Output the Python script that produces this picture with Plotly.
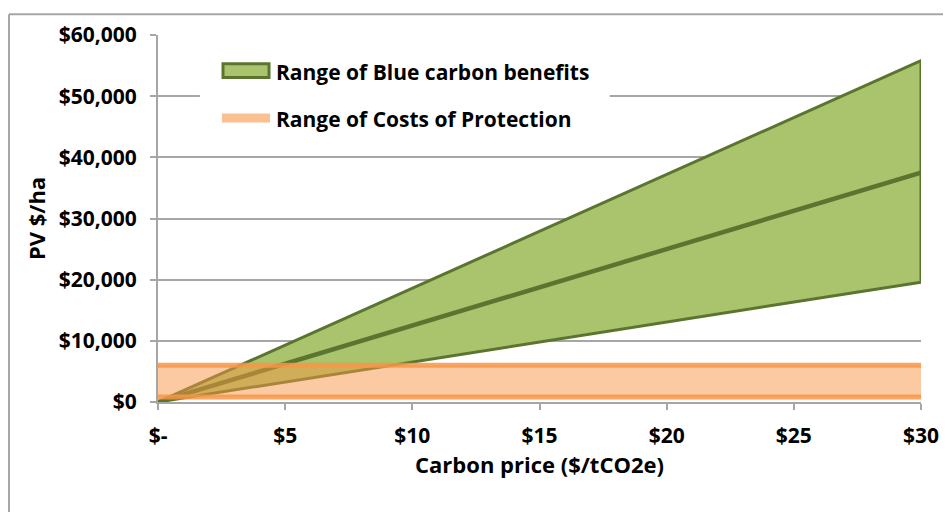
import plotly.graph_objects as go

# ---- data ----
carbon_price = [0, 5, 10, 15, 20, 25, 30]
benefit_high = [0, 9300, 18600, 27900, 37200, 46500, 55800]
benefit_mid = [0, 6250, 12500, 18750, 25000, 31250, 37500]
benefit_low = [0, 3270, 6530, 9800, 13070, 16330, 19600]
cost_low = [800, 800, 800, 800, 800, 800, 800]
cost_high = [6000, 6000, 6000, 6000, 6000, 6000, 6000]

x_tickvals = [0, 5, 10, 15, 20, 25, 30]
x_ticktext = ["$-", "$5", "$10", "$15", "$20", "$25", "$30"]
y_tickvals = [0, 10000, 20000, 30000, 40000, 50000, 60000]
y_ticktext = ["$0", "$10,000", "$20,000", "$30,000", "$40,000", "$50,000", "$60,000"]
legend_labels = ["Range of Blue carbon benefits", "Range of Costs of Protection"]

GREEN_FILL = "#A9C46C"
GREEN_LINE = "#5B7530"
ORANGE_LINE = "rgba(247,150,70,0.85)"
ORANGE_FILL = "rgba(247,150,70,0.5)"
ORANGE_LEGEND = "#FAC090"
GRID = "#A6A6A6"
FONT = "Open Sans"
FS = 21

fig = go.Figure()

# green benefit range polygon
fig.add_trace(go.Scatter(
    x=carbon_price + carbon_price[::-1],
    y=benefit_high + benefit_low[::-1],
    fill="toself", fillcolor=GREEN_FILL,
    line=dict(color=GREEN_LINE, width=3),
    mode="lines", name=legend_labels[0],
    showlegend=False, hoverinfo="skip",
))
fig.add_trace(go.Scatter(
    x=carbon_price, y=benefit_mid, mode="lines",
    line=dict(color=GREEN_LINE, width=4.5),
    showlegend=False, hoverinfo="skip",
))

# orange cost band
fig.add_trace(go.Scatter(
    x=carbon_price, y=cost_low, mode="lines",
    line=dict(color=ORANGE_LINE, width=5),
    showlegend=False, hoverinfo="skip",
))
fig.add_trace(go.Scatter(
    x=carbon_price, y=cost_high, mode="lines",
    line=dict(color=ORANGE_LINE, width=5),
    fill="tonexty", fillcolor=ORANGE_FILL,
    name=legend_labels[1],
    showlegend=False, hoverinfo="skip",
))

# legend drawn in paper space (box, swatches, labels)
legend_shapes = [
    dict(type="rect", xref="paper", yref="paper",
         x0=0.055, x1=0.592, y0=0.715, y1=0.962,
         fillcolor="white", line=dict(width=0)),
    dict(type="rect", xref="paper", yref="paper",
         x0=0.0852, x1=0.1455, y0=0.884, y1=0.922,
         fillcolor=GREEN_FILL, line=dict(color=GREEN_LINE, width=3)),
    dict(type="line", xref="paper", yref="paper",
         x0=0.0838, x1=0.1468, y0=0.774, y1=0.774,
         line=dict(color=ORANGE_LEGEND, width=9)),
]
legend_annotations = [
    dict(text=legend_labels[0], xref="paper", yref="paper",
         x=0.152, y=0.900, xanchor="left", yanchor="middle", showarrow=False,
         font=dict(family=FONT, size=FS, color="black", weight="bold")),
    dict(text=legend_labels[1], xref="paper", yref="paper",
         x=0.152, y=0.772, xanchor="left", yanchor="middle", showarrow=False,
         font=dict(family=FONT, size=FS, color="black", weight="bold")),
]

# outer frame (top and left edges visible in the crop)
frame_shapes = [
    dict(type="line", xref="paper", yref="paper",
         x0=-0.1953, x1=1.05, y0=1.0565, y1=1.0565,
         line=dict(color=GRID, width=2)),
    dict(type="line", xref="paper", yref="paper",
         x0=-0.1953, x1=-0.1953, y0=1.0565, y1=-0.32,
         line=dict(color=GRID, width=2)),
]

# page body keeps its default 8px margin, so the figure is 8px smaller
fig.update_layout(
    width=943, height=504,
    margin=dict(l=150, r=30, t=22, b=110),
    paper_bgcolor="white", plot_bgcolor="white",
    font=dict(family=FONT, size=FS, color="black", weight="bold"),
    showlegend=False,
    xaxis=dict(
        range=[0, 30], tickvals=x_tickvals, ticktext=x_ticktext,
        showgrid=False, zeroline=False,
        showline=True, linecolor=GRID, linewidth=2,
        ticks="outside", ticklen=6, tickcolor=GRID, tickwidth=2,
        ticklabelstandoff=8,
        title=dict(text="Carbon price ($/tCO2e)", standoff=6,
                   font=dict(family=FONT, size=22, weight="bold")),
    ),
    yaxis=dict(
        range=[0, 60000], tickvals=y_tickvals, ticktext=y_ticktext,
        showgrid=True, gridcolor=GRID, gridwidth=2, zeroline=False,
        showline=True, linecolor=GRID, linewidth=2,
        ticks="outside", ticklen=6, tickcolor=GRID, tickwidth=2,
        ticklabelstandoff=9,
        title=dict(text="PV $/ha", standoff=7,
                   font=dict(family=FONT, size=22, weight="bold")),
    ),
    shapes=legend_shapes + frame_shapes,
    annotations=legend_annotations,
)

fig.write_html("out.html", config={"displayModeBar": False})
